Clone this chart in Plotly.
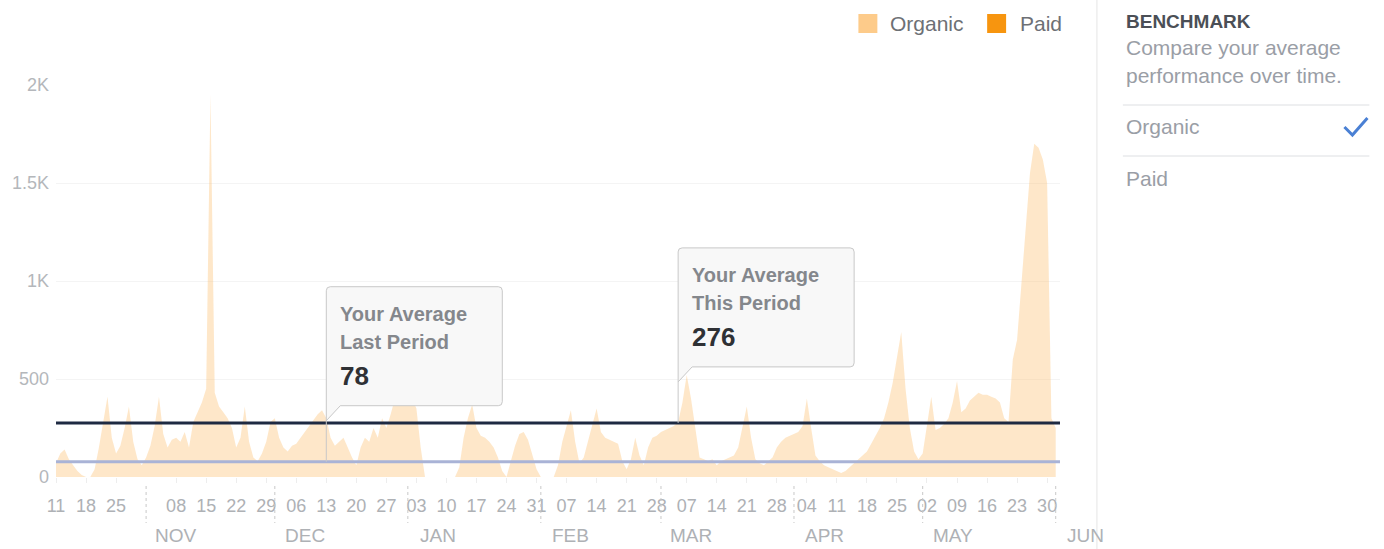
import plotly.graph_objects as go
import pandas as pd

# ---------------- data ----------------
start_date = "2020-10-11"
end_date = "2021-06-02"

# daily organic values, Oct 11 2020 .. Jun 1 2021 (one row per week)
organic = [
    70, 120, 140, 90, 60, 30, 10,          # Oct 11-17
    0, 0, 40, 150, 280, 410, 200,          # Oct 18-24
    120, 160, 250, 360, 180, 90, 60,       # Oct 25-31
    100, 160, 260, 410, 220, 150, 190,     # Nov 1-7
    200, 180, 230, 150, 280, 330, 380,     # Nov 8-14
    450, 1950, 430, 360, 330, 300, 250,    # Nov 15-21
    150, 200, 360, 180, 100, 80, 120,      # Nov 22-28
    180, 280, 300, 200, 150, 130, 160,     # Nov 29-Dec 5
    170, 200, 230, 260, 290, 320, 340,     # Dec 6-12
    300, 200, 160, 180, 200, 150, 100,     # Dec 13-19
    60, 150, 200, 180, 250, 200, 300,      # Dec 20-26
    250, 320, 400, 420, 410, 380, 400,     # Dec 27-Jan 2
    350, 150, 0, 0, 0, 0, 0,               # Jan 3-9
    0, 0, 0, 50, 200, 300, 370,            # Jan 10-16
    250, 210, 200, 180, 150, 100, 30,      # Jan 17-23
    0, 80, 160, 220, 230, 190, 110,        # Jan 24-30
    40, 0, 0, 0, 0, 60, 180,               # Jan 31-Feb 6
    260, 340, 180, 70, 100, 180, 260,      # Feb 7-13
    350, 230, 200, 190, 180, 170, 80,      # Feb 14-20
    40, 90, 200, 110, 60, 150, 200,        # Feb 21-27
    210, 230, 240, 250, 260, 280, 380,     # Feb 28-Mar 6
    520, 400, 250, 100, 90, 80, 90,        # Mar 7-13
    60, 80, 90, 100, 110, 150, 250,        # Mar 14-20
    360, 200, 90, 70, 60, 80, 100,         # Mar 21-27
    150, 180, 200, 210, 220, 230, 260,     # Mar 28-Apr 3
    400, 250, 110, 80, 60, 50, 40,         # Apr 4-10
    30, 20, 30, 50, 70, 90, 110,           # Apr 11-17
    130, 170, 210, 250, 300, 380, 480,     # Apr 18-24
    600, 740, 450, 250, 130, 90, 120,      # Apr 25-May 1
    260, 410, 240, 250, 270, 300, 380,     # May 2-8
    490, 330, 350, 390, 410, 430, 420,     # May 9-15
    420, 410, 400, 380, 300, 280, 600,     # May 16-22
    700, 1000, 1300, 1550, 1700, 1680, 1620,  # May 23-29
    1500, 300, 250,                        # May 30-Jun 1
]
dates = pd.date_range(start_date, periods=len(organic), freq="D")

avg_this_period = 276
avg_last_period = 78

y_tickvals = [0, 500, 1000, 1500, 2000]
y_ticktext = ["0", "500", "1K", "1.5K", "2K"]

week_ticks = [d for d in pd.date_range(start_date, "2021-05-30", freq="7D")
              if d.strftime("%Y-%m-%d") != "2020-11-01"]
week_text = [d.strftime("%d") for d in week_ticks]

month_starts = ["2020-11-01", "2020-12-01", "2021-01-01", "2021-02-01",
                "2021-03-01", "2021-04-01", "2021-05-01", "2021-06-01"]
month_labels = ["NOV", "DEC", "JAN", "FEB", "MAR", "APR", "MAY", "JUN"]

legend_names = ["Organic", "Paid"]
legend_colors = ["#FDCB8A", "#F7950F"]

# ---------------- layout helpers ----------------
W, H = 1384, 549
L, R, T, B = 54, 1060, 85, 477
FONT = "Liberation Sans, Arial, Helvetica, sans-serif"
t0, t1 = pd.Timestamp(start_date), pd.Timestamp(end_date)


def px(x):
    return (x - L) / (R - L)


def py(y):
    return (B - y) / (B - T)


def date_frac(d):
    return (pd.Timestamp(d) - t0) / (t1 - t0)


fig = go.Figure()

fig.add_trace(go.Scatter(
    x=dates, y=organic, mode="lines", line=dict(width=0, color="rgba(0,0,0,0)"),
    fill="tozeroy", fillcolor="rgba(252,196,120,0.40)", name="Organic",
    hoverinfo="x+y", showlegend=False,
))
fig.add_trace(go.Scatter(
    x=[dates[0], t1], y=[avg_last_period, avg_last_period],
    mode="lines", line=dict(color="#A9B3D6", width=3), showlegend=False,
    hoverinfo="skip",
))
fig.add_trace(go.Scatter(
    x=[dates[0], t1], y=[avg_this_period, avg_this_period],
    mode="lines", line=dict(color="#1E2A42", width=3), showlegend=False,
    hoverinfo="skip",
))

shapes = []
annotations = []

# month separators (dotted) below the axis
for m in month_starts:
    shapes.append(dict(type="line", xref="x", yref="paper", ysizemode="pixel",
                       yanchor=0, x0=m, x1=m, y0=-9, y1=-46,
                       line=dict(color="#c8c8c8", width=1, dash="dot")))

# month labels (placed one week after the month start)
for m, lab in zip(month_starts, month_labels):
    pos = pd.Timestamp(m) + pd.Timedelta(days=7)
    annotations.append(dict(x=date_frac(pos), y=0, xref="paper", yref="paper",
                            yshift=-58, text=lab, showarrow=False,
                            xanchor="center", yanchor="middle",
                            font=dict(family=FONT, size=19, color="#aeb1b5")))

# callout boxes
bubble = ("M 0,0 L 0,171 Q 0,175 4,175 L 172,175 Q 176,175 176,171 "
          "L 176,60 Q 176,56 172,56 L 14,56 L 0,41")
callouts = [
    ("2020-12-13", avg_last_period, "Last Period"),
    ("2021-03-05", avg_this_period, "This Period"),
]
for xd, val, label in callouts:
    shapes.append(dict(type="path", xref="x", yref="y", xsizemode="pixel",
                       ysizemode="pixel", xanchor=xd, yanchor=val, path=bubble,
                       fillcolor="#F8F8F8", line=dict(color="#C8C8C8", width=1),
                       layer="above"))
    for txt, dy, size, color in [("Your Average", 148, 20, "#84878C"),
                                 (label, 120, 20, "#84878C"),
                                 (str(val), 86, 26, "#2F3135")]:
        annotations.append(dict(x=xd, y=val, xref="x", yref="y", xshift=12,
                                yshift=dy, text="<b>%s</b>" % txt,
                                showarrow=False, xanchor="left",
                                yanchor="middle",
                                font=dict(family=FONT, size=size, color=color)))

# legend (custom)
leg_x = [(858, 888), (987, 1018)]
for (sx, tx), name, col in zip(leg_x, legend_names, legend_colors):
    shapes.append(dict(type="rect", xref="paper", yref="paper",
                       x0=px(sx), x1=px(sx + 19), y0=py(33), y1=py(14),
                       fillcolor=col, line=dict(width=0)))
    annotations.append(dict(x=px(tx), y=py(23), xref="paper", yref="paper",
                            text=name, showarrow=False, xanchor="left",
                            yanchor="middle",
                            font=dict(family=FONT, size=21, color="#6D7075")))

# right panel
shapes.append(dict(type="line", xref="paper", yref="paper",
                   x0=px(1097), x1=px(1097), y0=py(H), y1=py(0),
                   line=dict(color="#E6E6E6", width=1)))
for yline in (105, 156):
    shapes.append(dict(type="line", xref="paper", yref="paper",
                       x0=px(1123), x1=px(1370), y0=py(yline), y1=py(yline),
                       line=dict(color="#DDDFE2", width=1)))
panel_text = [
    ("<b>BENCHMARK</b>", 22, 19, "#4B4F56"),
    ("Compare your average", 48, 21, "#9A9EA6"),
    ("performance over time.", 76, 21, "#9A9EA6"),
    ("Organic", 127, 21, "#9A9EA6"),
    ("Paid", 178, 21, "#9A9EA6"),
]
for txt, yy, size, color in panel_text:
    annotations.append(dict(x=px(1124), y=py(yy), xref="paper", yref="paper",
                            text=txt, showarrow=False, xanchor="left",
                            yanchor="middle",
                            font=dict(family=FONT, size=size, color=color)))
# check mark
shapes.append(dict(type="path", xref="paper", yref="paper", xsizemode="pixel",
                   ysizemode="pixel", xanchor=px(1345), yanchor=py(127),
                   path="M 0,0 L 8,-8 L 23,9",
                   line=dict(color="#4A80D4", width=3)))

fig.update_layout(
    width=W, height=H,
    margin=dict(l=L, r=W - R, t=T, b=H - B),
    paper_bgcolor="white", plot_bgcolor="white",
    font=dict(family=FONT),
    showlegend=False,
    shapes=shapes, annotations=annotations,
    xaxis=dict(type="date", range=[start_date, end_date],
               tickvals=week_ticks, ticktext=week_text,
               tickfont=dict(family=FONT, size=18, color="#AEB1B5"),
               showgrid=False, zeroline=False, showline=False,
               ticks="outside", ticklen=5, tickcolor="#EDEDED",
               ticklabelstandoff=7),
    yaxis=dict(range=[0, 2000], tickvals=y_tickvals, ticktext=y_ticktext,
               tickfont=dict(family=FONT, size=18, color="#B4B7BB"),
               showgrid=True, gridcolor="#F4F4F4", zeroline=False,
               showline=False, ticklabelstandoff=6),
)

fig.write_html(
    "out.html",
    config={"displayModeBar": False},
    post_script="document.body.style.margin='0';"
                "document.body.style.overflow='hidden';",
)
